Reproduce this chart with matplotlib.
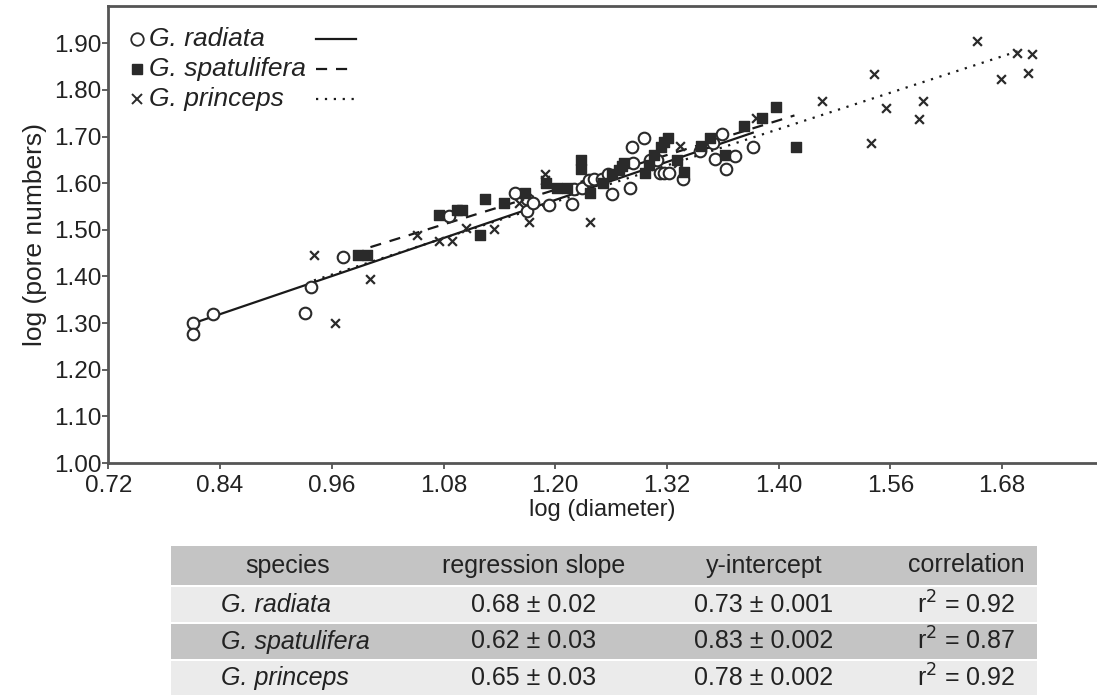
import matplotlib
matplotlib.use("Agg")
import matplotlib.pyplot as plt
import numpy as np

plt.rcParams['font.family'] = ['Liberation Sans', 'DejaVu Sans']

# ---------------- data ----------------
radiata_x = [0.8105, 0.8105, 0.8324, 0.9309, 0.9378, 0.9716, 1.0860, 1.1566, 1.1696, 1.1696,
             1.1765, 1.1929, 1.2181, 1.2199, 1.2293, 1.2362, 1.2412, 1.2501, 1.2571, 1.2611,
             1.2800, 1.2840, 1.2826, 1.2959, 1.3019, 1.3094, 1.3123, 1.3173, 1.3227, 1.3377,
             1.3556, 1.3692, 1.3794, 1.3715, 1.3928, 1.3834, 1.4122]
radiata_y = [1.300, 1.276, 1.320, 1.322, 1.378, 1.441, 1.530, 1.580, 1.566, 1.541,
             1.557, 1.553, 1.555, 1.587, 1.589, 1.607, 1.609, 1.609, 1.620, 1.577,
             1.589, 1.643, 1.678, 1.696, 1.650, 1.650, 1.621, 1.621, 1.621, 1.608,
             1.669, 1.687, 1.705, 1.651, 1.658, 1.630, 1.678]

spatul_x = [0.9876, 0.9975, 1.0751, 1.0950, 1.1000, 1.1188, 1.1248, 1.1447, 1.1676, 1.1905,
            1.2020, 1.2127, 1.2278, 1.2278, 1.2378, 1.2511, 1.2611, 1.2690, 1.2720, 1.2740,
            1.2969, 1.3005, 1.3058, 1.3138, 1.3173, 1.3213, 1.3307, 1.3387, 1.3566, 1.3665,
            1.3820, 1.4023, 1.4222, 1.4376, 1.4590]
spatul_y = [1.445, 1.445, 1.532, 1.543, 1.543, 1.489, 1.566, 1.557, 1.580, 1.600,
            1.590, 1.590, 1.650, 1.631, 1.580, 1.600, 1.620, 1.628, 1.637, 1.643,
            1.621, 1.639, 1.661, 1.678, 1.689, 1.696, 1.650, 1.623, 1.680, 1.698,
            1.660, 1.723, 1.739, 1.763, 1.677]

princ_x = [0.9408, 0.9637, 1.0005, 1.0512, 1.0751, 1.0890, 1.1039, 1.1338, 1.1616, 1.1716,
           1.1885, 1.1885, 1.2370, 1.3317, 1.3337, 1.4152, 1.4869, 1.5422, 1.5555, 1.5396,
           1.5953, 1.5913, 1.6530, 1.6788, 1.6957, 1.7123, 1.7077]
princ_y = [1.445, 1.300, 1.394, 1.490, 1.477, 1.477, 1.503, 1.502, 1.557, 1.517,
           1.620, 1.607, 1.5175, 1.643, 1.680, 1.739, 1.776, 1.834, 1.761, 1.687,
           1.776, 1.738, 1.906, 1.823, 1.879, 1.876, 1.836]

# regression lines as drawn: slope, intercept, x-range
line_slopes = [0.68, 0.62, 0.65]
line_intercepts = [0.748, 0.842, 0.780]
line_xmin = [0.8105, 1.0015, 0.9408]
line_xmax = [1.4122, 1.4570, 1.6997]

species = ['G. radiata', 'G. spatulifera', 'G. princeps']
xtick_vals = [0.72, 0.84, 0.96, 1.08, 1.20, 1.32, 1.44, 1.56, 1.68]
xtick_labels = ['0.72', '0.84', '0.96', '1.08', '1.20', '1.32', '1.40', '1.56', '1.68']
ytick_vals = [1.00, 1.10, 1.20, 1.30, 1.40, 1.50, 1.60, 1.70, 1.80, 1.90]

table_header = ['species', 'regression slope', 'y-intercept', 'correlation']
table_slope = ['0.68 ± 0.02', '0.62 ± 0.03', '0.65 ± 0.03']
table_intercept = ['0.73 ± 0.001', '0.83 ± 0.002', '0.78 ± 0.002']
table_r2 = ['0.92', '0.87', '0.92']

# ---------------- figure ----------------
W, H = 1097, 695
fig = plt.figure(figsize=(W / 100, H / 100), dpi=100)
ax = fig.add_axes([108.4 / W, 1 - 463 / H, 1 - 108.4 / W, (463 - 6) / H])

mc = '#2a2a2a'
ax.scatter(radiata_x, radiata_y, s=70, facecolors='white', edgecolors=mc, linewidths=1.5,
           marker='o', zorder=3)
ax.scatter(spatul_x, spatul_y, s=45, color=mc, marker='s', zorder=3)
ax.scatter(princ_x, princ_y, s=40, color=mc, marker='x', linewidths=1.6, zorder=3)

styles = ['-', (0, (5, 4)), (0, (1, 3))]
for k in range(3):
    xs = np.array([line_xmin[k], line_xmax[k]])
    ax.plot(xs, line_slopes[k] * xs + line_intercepts[k], color='#1a1a1a',
            linestyle=styles[k], lw=1.6, zorder=2)

ax.set_xlim(0.72, 1.782)
ax.set_ylim(1.0, 1.98)
ax.set_xticks(xtick_vals)
ax.set_xticklabels(xtick_labels)
ax.set_yticks(ytick_vals)
ax.set_yticklabels([f'{v:.2f}' for v in ytick_vals])
ax.tick_params(labelsize=17.5, length=4, width=1.2, color='#444444', labelcolor='#222222')
ax.tick_params(axis='x', pad=5)
ax.tick_params(axis='y', pad=1)
ax.spines['right'].set_visible(False)
for s in ['left', 'bottom', 'top']:
    ax.spines[s].set_color('#555555')
    ax.spines[s].set_linewidth(2)
ax.set_xlabel('log (diameter)', fontsize=17, labelpad=1, color='#222222')
ax.set_ylabel('log (pore numbers)', fontsize=19, labelpad=5, color='#222222')

# legend (manual)
leg_y = [1.909, 1.845, 1.781]
markers = [dict(marker='o', mfc='white', mec=mc, ms=9, mew=1.3),
           dict(marker='s', mfc=mc, mec=mc, ms=7),
           dict(marker='x', mfc=mc, mec=mc, ms=7, mew=1.4)]
for k in range(3):
    ax.plot([0.7507], [leg_y[k]], linestyle='none', **markers[k])
    ax.text(0.7640, leg_y[k], species[k], fontsize=19, style='italic', va='center',
            ha='left', color='#222222')
    ax.plot([0.9430, 0.9860], [leg_y[k], leg_y[k]], color='#1a1a1a', linestyle=styles[k], lw=1.6)

# ---------------- table ----------------
tax = fig.add_axes([0, 0, 1, 1])
tax.set_xlim(0, W)
tax.set_ylim(H, 0)
tax.axis('off')
tl, tr = 171, 1037
rows = [(546, 585, '#c4c4c4'), (587, 622, '#ebebeb'), (624, 659, '#c4c4c4'), (661, 695, '#ebebeb')]
for (t, b, c) in rows:
    tax.add_patch(plt.Rectangle((tl, t), tr - tl, b - t, color=c, lw=0))
col_x = [288, 534, 764, 966]
tfs = 18
for j, h in enumerate(table_header):
    tax.text(col_x[j], (rows[0][0] + rows[0][1]) / 2, h, fontsize=tfs, ha='center',
             va='center', color='#222222')
for i in range(3):
    yc = (rows[i + 1][0] + rows[i + 1][1]) / 2
    tax.text(221, yc, species[i], fontsize=tfs, style='italic', ha='left', va='center',
             color='#222222')
    tax.text(col_x[1], yc, table_slope[i], fontsize=tfs, ha='center', va='center', color='#222222')
    tax.text(col_x[2], yc, table_intercept[i], fontsize=tfs, ha='center', va='center', color='#222222')
    tax.text(col_x[3], yc, r'r$^2$ = ' + table_r2[i], fontsize=tfs, ha='center', va='center',
             color='#222222')

fig.savefig('out.png', dpi=100)
